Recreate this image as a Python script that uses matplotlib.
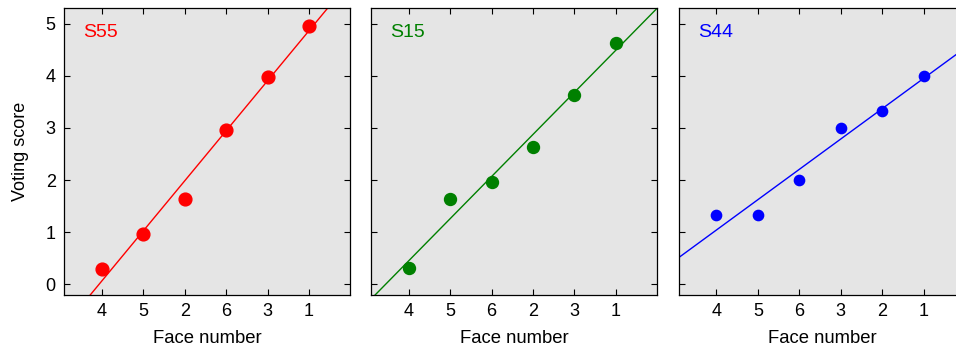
import matplotlib.pyplot as plt
import numpy as np

plt.rcParams['font.family'] = ['Liberation Sans', 'DejaVu Sans']

# face order along x and voting scores for each subject
names = ['S55', 'S15', 'S44']
colors = ['#ff0000', '#008000', '#0000ff']
faces = [['4', '5', '2', '6', '3', '1'],
         ['4', '5', '6', '2', '3', '1'],
         ['4', '5', '6', '3', '2', '1']]
s55 = [0.30, 0.97, 1.63, 2.97, 3.97, 4.95]
s15 = [0.31, 1.64, 1.97, 2.64, 3.64, 4.63]
s44 = [1.33, 1.33, 2.00, 3.00, 3.33, 4.00]
scores = [s55, s15, s44]
msizes = [9.2, 8.6, 7.4]

fig = plt.figure(figsize=(9.56, 3.49), dpi=100)
lefts = [0.067, 0.388, 0.710]

for i in range(3):
    ax = fig.add_axes([lefts[i], 0.155, 0.2995, 0.822])
    x = np.arange(1, 7)
    y = np.array(scores[i])
    k, b = np.polyfit(x, y, 1)
    xx = np.array([-1, 9])
    ax.plot(xx, k * xx + b, color=colors[i], lw=1)
    ax.plot(x, y, 'o', color=colors[i], ms=msizes[i], mec=colors[i])
    ax.set_xlim(0.09, 7)
    ax.set_ylim(-0.2, 5.3)
    ax.set_facecolor('#e5e5e5')
    ax.set_xticks(x)
    ax.set_xticklabels(faces[i])
    ax.set_yticks(range(6))
    ax.tick_params(direction='in', top=True, right=True, length=4, width=0.8,
                   labelsize=13, pad=6)
    if i > 0:
        ax.set_yticklabels([])
    else:
        ax.set_ylabel('Voting score', fontsize=13, labelpad=12)
    ax.set_xlabel('Face number', fontsize=13.3, labelpad=7)
    ax.text(0.066, 0.915, names[i], transform=ax.transAxes, color=colors[i],
            fontsize=14, va='center')
    for s in ax.spines.values():
        s.set_linewidth(0.9)

fig.savefig('out.png', dpi=100)
